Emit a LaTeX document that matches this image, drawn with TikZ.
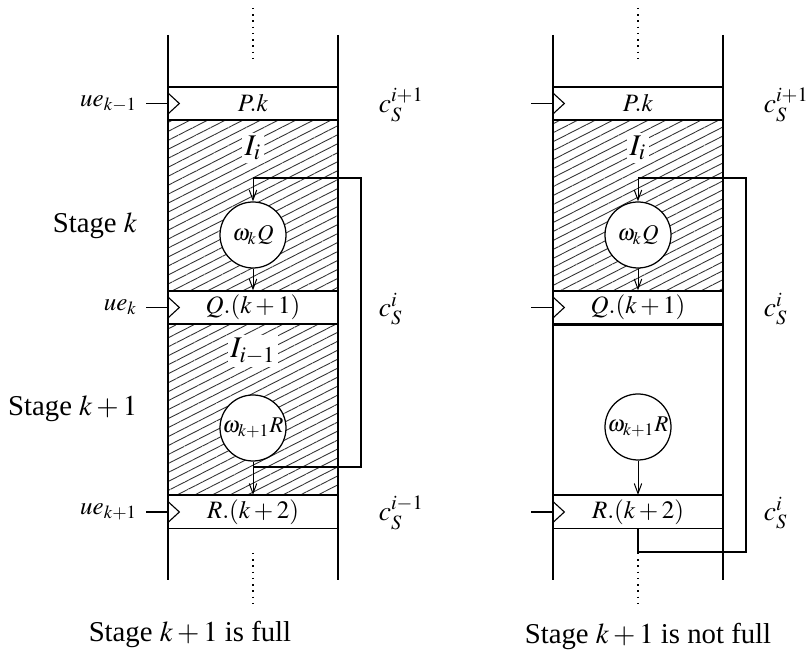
\documentclass[tikz,border=0pt]{standalone}
\usepackage{mathptmx}
\usepackage{fontspec}
\setmainfont{Liberation Serif}
\usetikzlibrary{arrows.meta,patterns.meta}
\tikzset{
    every picture/.style={line join=miter},
    colline/.style={line width=0.5pt},
    regbox/.style={draw,fill=white,line width=0.5pt,
      minimum width=68pt,minimum height=13.2pt,inner sep=0pt},
    opnode/.style={draw,circle,fill=white,line width=0.5pt,
      minimum size=26.4pt,inner sep=0pt,font=\small},
    hatched/.style={pattern={Lines[angle=27,distance=3.2pt,line width=0.35pt]},
      pattern color=black!80},
    flowarrow/.style={-{Straight Barb[length=4pt,width=3pt]},line width=0.4pt},
    loopline/.style={line width=0.9pt},
    clktick/.style={line width=0.45pt},
    dotline/.style={line width=0.55pt,dash pattern=on 0.6pt off 1.9pt},
    intlabel/.style={fill=white,inner sep=1pt,font=\large},
    stagelabel/.style={font=\fontsize{11.5}{13}\selectfont},
    clabel/.style={anchor=west,font=\fontsize{11}{13}\selectfont}
}

\begin{document}
\begin{tikzpicture}[x=0.4pt,y=-0.4pt]
  \useasboundingbox (0,0) rectangle (808,657);
  % stage k+1 full
  \fill[hatched] (168,120) rectangle (338,291);
  \fill[hatched] (168,324) rectangle (338,495);
  \node[regbox] (Pa) at (253,103.5) {$P.k$};
  \node[regbox] (Qa) at (253,307.5) {$Q.(k+1)$};
  \node[regbox] (Ra) at (253,512) {$R.(k+2)$};
  \draw[line width=0.8pt] (Ra.north west) -- (Ra.north east);
  \draw[colline] (168,35) -- (168,580);
  \draw[colline] (338,35) -- (338,580);
  \draw[dotline] (253,8) -- (253,63);
  \draw[dotline] (253,553) -- (253,608);
  \node[intlabel] (Iia) at (253,148) {$I_i$};
  \node[intlabel] (Ija) at (253,351) {$I_{i-1}$};
  \node[opnode] (wQa) at (253,235) {$\omega_k Q$};
  \node[opnode] (wRa) at (253,428) {$\omega_{k+1} R$};
  \foreach \r/\v in {Pa/{k-1},Qa/k,Ra/{k+1}} {
    \node[anchor=east] (ue\r) at (146,0 |- \r.west) {$ue_{\v}$};
    \draw[clktick] (ue\r.east) -- (\r.west);
    \draw[clktick] ([yshift=4.4pt]\r.west) -- ++(12,11) -- ++(-12,11);
  }
  \draw[flowarrow] (wQa.south) -- (Qa.north);
  \draw[flowarrow] (wRa.south) -- (Ra.north);
  \coordinate (la1) at (253,467);
  \coordinate (la2) at (361,178);
  \coordinate (la3) at (253,178);
  \draw[loopline] (la1) -| (la2) -- (la3);
  \draw[flowarrow] (la3) -- (wQa.north);
  \node[clabel] (cPa) at (370,105) {$c_S^{i+1}$};
  \node[clabel] (cQa) at (370,309) {$c_S^{i}$};
  \node[clabel] (cRa) at (370,513) {$c_S^{i-1}$};
  \node[stagelabel,anchor=east] (stk) at (146,226) {Stage $k$};
  \node[stagelabel,anchor=east] (stkk) at (146,409) {Stage $k+1$};
  \node[stagelabel] (capa) at (190,634) {Stage $k+1$ is full};

  % stage k+1 not full
  \fill[hatched] (553,120) rectangle (723,291);
  \node[regbox] (Pb) at (638,103.5) {$P.k$};
  \node[regbox] (Qb) at (638,307.5) {$Q.(k+1)$};
  \node[regbox] (Rb) at (638,512) {$R.(k+2)$};
  \draw[line width=0.8pt] (Qb.south west) -- (Qb.south east);
  \draw[line width=0.8pt] (Rb.north west) -- (Rb.north east);
  \draw[colline] (553,35) -- (553,580);
  \draw[colline] (723,35) -- (723,580);
  \draw[dotline] (638,8) -- (638,63);
  \draw[dotline] (638,553) -- (638,608);
  \node[intlabel] (Iib) at (638,148) {$I_i$};
  \node[opnode] (wQb) at (638,235) {$\omega_k Q$};
  \node[opnode] (wRb) at (638,427) {$\omega_{k+1} R$};
  \foreach \r in {Pb,Qb,Rb} {
    \coordinate (in\r) at (531,0 |- \r.west);
    \draw[clktick] (in\r) -- (\r.west);
    \draw[clktick] ([yshift=4.4pt]\r.west) -- ++(12,11) -- ++(-12,11);
  }
  \draw[flowarrow] (wQb.south) -- (Qb.north);
  \draw[flowarrow] (wRb.south) -- (Rb.north);
  \coordinate (lb1) at (746,552);
  \coordinate (lb2) at (638,178);
  \draw[loopline] (Rb.south) |- (lb1) |- (lb2);
  \draw[flowarrow] (lb2) -- (wQb.north);
  \node[clabel] (cPb) at (755,105) {$c_S^{i+1}$};
  \node[clabel] (cQb) at (755,309) {$c_S^{i}$};
  \node[clabel] (cRb) at (755,513) {$c_S^{i}$};
  \node[stagelabel] (capb) at (648,636) {Stage $k+1$ is not full};
\end{tikzpicture}
\end{document}
